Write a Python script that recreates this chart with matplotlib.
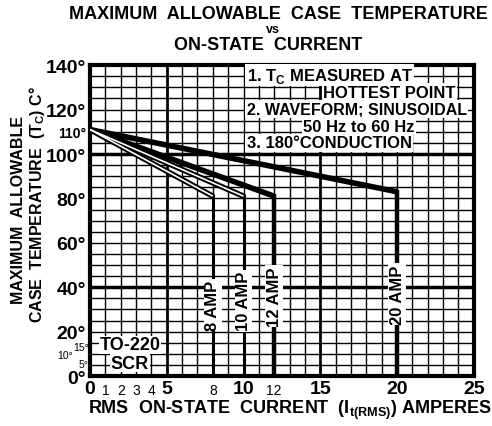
import matplotlib
matplotlib.use("Agg")
import matplotlib.pyplot as plt

# ---- data ----
currents = [8, 10, 12, 20]               # rated RMS current of each curve (A)
start_temp = 111                          # case temperature at 0 A
bend_temps = [81, 81, 81, 83]             # temperature at rated current
curve_labels = ["8 AMP", "10 AMP", "12 AMP", "20 AMP"]
label_temps = [32, 34, 36, 37]
x_major = [0, 5, 10, 15, 20, 25]
x_small = [1, 2, 3, 4, 8, 12]
y_major = [0, 20, 40, 60, 80, 100, 110, 120, 140]
y_small = [5, 10, 15]
notes = ["1. T$_{\\mathbf{C}}$ MEASURED AT", "HOTTEST POINT",
         "2. WAVEFORM; SINUSOIDAL", "50 Hz to 60 Hz", "3. 180\u00b0CONDUCTION"]

plt.rcParams['font.family'] = ['Liberation Sans', 'DejaVu Sans']
plt.rcParams['mathtext.fontset'] = 'custom'
plt.rcParams['mathtext.rm'] = 'Liberation Sans'
plt.rcParams['mathtext.bf'] = 'Liberation Sans:bold'
plt.rcParams['font.weight'] = 'bold'

fig = plt.figure(figsize=(4.92, 4.27), dpi=100)
ax = fig.add_axes([0.183, 0.117, 0.780, 0.728])
ax.set_xlim(0, 25)
ax.set_ylim(0, 140)

# grid
for xv in range(0, 26):
    lw = 2.0 if xv in (5, 15) else 1.0
    ax.axvline(xv, color='black', lw=lw, zorder=1)
for yv in range(0, 141, 5):
    lw = 2.5 if yv in (40, 100) else 1.0
    ax.axhline(yv, color='black', lw=lw, zorder=1)
for s in ax.spines.values():
    s.set_linewidth(3)

ax.set_xticks(x_major)
ax.set_xticklabels([str(v) for v in x_major], fontsize=14, fontweight='bold')
ax.set_yticks(y_major)
ax.set_yticklabels([f"{v}\u00b0" for v in y_major], fontsize=14, fontweight='bold')
ax.tick_params(length=0, pad=3)
for lab in ax.get_yticklabels():
    if lab.get_text() == "110\u00b0":
        lab.set_fontsize(10)
for v in x_small:
    ax.text(v, -3, str(v), ha='center', va='top', fontsize=10, fontweight='normal',
            clip_on=False)
small_pos = {5: (-0.1, 5.5), 10: (-1.1, 9.5), 15: (-0.1, 12.9)}
for v in y_small:
    px, py = small_pos[v]
    ax.text(px, py, f"{v}\u00b0", ha='right', va='center', fontsize=7.5,
            fontweight='normal', clip_on=False)

# curves
for i, (c, bt) in enumerate(zip(currents, bend_temps)):
    thin = c in (8, 10)
    ax.plot([0, c], [start_temp, bt], color='black', lw=4.0, zorder=3,
            solid_capstyle='butt')
    if thin:
        ax.plot([0, c], [start_temp, bt], color='white', lw=1.2, zorder=3.5,
                solid_capstyle='butt')
    ax.plot([c, c], [bt + 0.8, 0], color='black', lw=2.2 if thin else 3.2, zorder=3,
            solid_capstyle='butt')
    ax.text(c, label_temps[i], curve_labels[i], rotation=90, ha='center',
            va='center', fontsize=12, fontweight='bold', zorder=5,
            bbox=dict(facecolor='white', edgecolor='none', pad=1))

# notes
nb = dict(facecolor='white', edgecolor='none', pad=1)
ax.text(10.2, 135.5, notes[0], ha='left', va='center', fontsize=12, zorder=5, bbox=nb)
ax.text(23.8, 127.8, notes[1], ha='right', va='center', fontsize=12, zorder=5, bbox=nb)
ax.text(10.2, 120.2, notes[2], ha='left', va='center', fontsize=11.5, zorder=5, bbox=nb)
ax.text(13.9, 112.6, notes[3], ha='left', va='center', fontsize=12, zorder=5, bbox=nb)
ax.text(10.2, 105.0, notes[4], ha='left', va='center', fontsize=12, zorder=5, bbox=nb)

ax.text(2.6, 14.0, "TO-220", ha='center', va='center', fontsize=13, zorder=5,
        bbox=dict(facecolor='white', edgecolor='none', pad=0.5))
ax.text(2.6, 5.8, "SCR", ha='center', va='center', fontsize=13, zorder=5,
        bbox=dict(facecolor='white', edgecolor='none', pad=0.5))

# titles
fig.text(0.565, 0.965, "MAXIMUM  ALLOWABLE  CASE  TEMPERATURE", ha='center',
         va='center', fontsize=13, fontweight='bold')
fig.text(0.555, 0.930, "vs", ha='center', va='center', fontsize=9, fontweight='bold')
fig.text(0.545, 0.893, "ON-STATE  CURRENT", ha='center', va='center', fontsize=13,
         fontweight='bold')
fig.text(0.59, 0.038, "RMS  ON-STATE  CURRENT  (I$_{\\mathbf{t(RMS)}}$) AMPERES",
         ha='center', va='center', fontsize=13, fontweight='bold')
fig.text(0.037, 0.508, "MAXIMUM  ALLOWABLE", rotation=90, ha='center', va='center',
         fontsize=11.5, fontweight='bold')
fig.text(0.076, 0.52, "CASE  TEMPERATURE  (T$_{\\mathbf{C}}$) C\u00b0", rotation=90,
         ha='center', va='center', fontsize=11.5, fontweight='bold')

fig.savefig("out.png", dpi=100, facecolor='white')
